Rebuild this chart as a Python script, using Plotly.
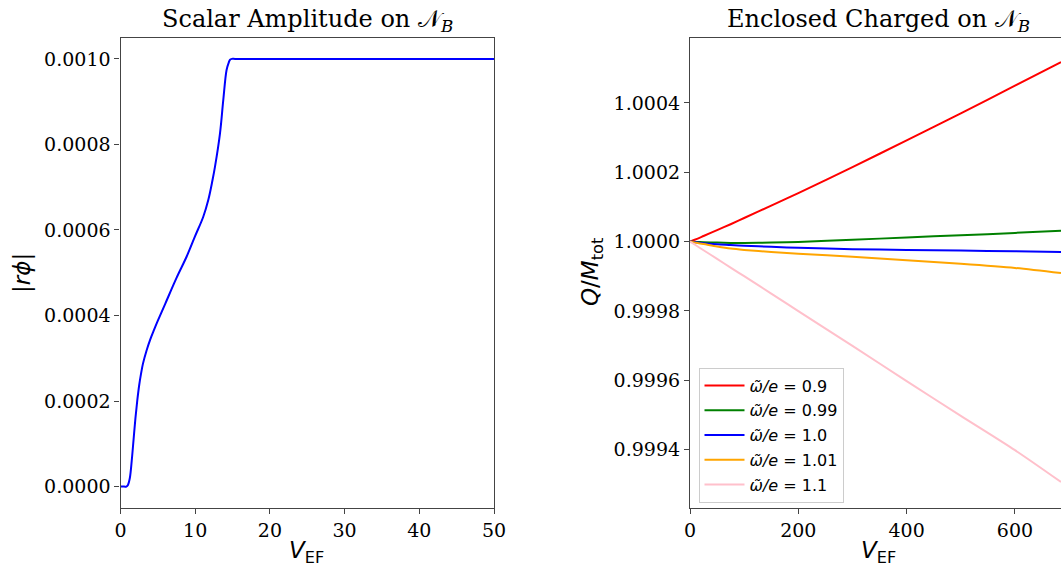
import plotly.graph_objects as go

# Scalar amplitude |r phi| on N_B versus V_EF
v_amp = [0, 0.5, 0.78, 1.0, 1.25, 1.5, 1.75, 2.0, 2.25, 2.5, 2.75, 3.0, 3.5, 4.0, 4.5,
         5.0, 6.0, 7.5, 8.86, 9.97, 11.08, 11.75, 12.3, 12.65, 13.32, 13.76, 14.2, 14.5,
         14.66, 14.9, 15.33, 20, 30, 40, 50]
amp = [0, 0, 0, 0.000004, 0.00002, 0.00006, 0.00011, 0.00016, 0.000202, 0.000237,
       0.000264, 0.000287, 0.000319, 0.000345, 0.000367, 0.000388, 0.000428, 0.000488,
       0.000538, 0.000585, 0.000631, 0.00067, 0.000715, 0.000748, 0.000826, 0.000904,
       0.000974, 0.000992, 0.000998, 0.001, 0.001, 0.001, 0.001, 0.001, 0.001]

# Enclosed charge Q/M_tot on N_B versus V_EF for several omega/e
v_q = [0, 10, 25, 50, 75, 100, 150, 200, 300, 400, 500, 600, 685]
q_090 = [1.0, 1.000006, 1.000016, 1.000033, 1.00005, 1.000068, 1.000104, 1.000140,
         1.000215, 1.000292, 1.000370, 1.000450, 1.000518]
q_099 = [1.0, 0.999999, 0.999998, 0.999997, 0.999996, 0.999996, 0.999997, 0.999999,
         1.000005, 1.000012, 1.000018, 1.000025, 1.000031]
q_100 = [1.0, 0.999998, 0.999995, 0.999992, 0.99999, 0.999988, 0.999985, 0.999982,
         0.999978, 0.999976, 0.999974, 0.999972, 0.999970]
q_101 = [1.0, 0.999997, 0.999993, 0.999986, 0.99998, 0.999976, 0.99997, 0.999965,
         0.999956, 0.999946, 0.999936, 0.999924, 0.999909]
q_110 = [1.0, 0.99999, 0.999975, 0.99995, 0.999925, 0.9999, 0.99985, 0.999799,
         0.999699, 0.999597, 0.999497, 0.999398, 0.999306]

series_labels = ["0.9", "0.99", "1.0", "1.01", "1.1"]
series_values = [q_090, q_099, q_100, q_101, q_110]
series_colors = ["red", "green", "blue", "orange", "pink"]

W, H = 1061, 567
SERIF = "DejaVu Serif"
SANS = "DejaVu Sans"

fig = go.Figure()
fig.add_trace(go.Scatter(x=v_amp, y=amp, mode="lines", showlegend=False,
                         line=dict(color="blue", width=2, shape="spline", smoothing=1.0),
                         xaxis="x", yaxis="y"))
for i, (lab, vals, col) in enumerate(zip(series_labels, series_values, series_colors)):
    fig.add_trace(go.Scatter(x=v_q, y=vals, mode="lines",
                             name=f"<i>ω̃/e</i> = {lab}", legendgroup=f"g{i}",
                             line=dict(color=col, width=2, shape="spline", smoothing=0.8),
                             xaxis="x2", yaxis="y2"))

def px_x(p):
    return p / W

def px_y(p):
    return 1 - p / H

axis_common = dict(showline=True, linecolor="#444", linewidth=1.2, ticks="outside",
                   ticklen=5, tickwidth=1.2, tickcolor="#444", showgrid=False,
                   zeroline=False, automargin=False,
                   tickfont=dict(family=SERIF, size=19, color="black"))

fig.update_layout(
    width=W, height=H,
    margin=dict(l=0, r=0, t=0, b=0, autoexpand=False),
    paper_bgcolor="white", plot_bgcolor="white",
    xaxis=dict(domain=[px_x(120.5), px_x(494)], range=[0, 50], dtick=10, mirror=True,
               anchor="y", **axis_common),
    yaxis=dict(domain=[px_y(508), px_y(37.5)], range=[-0.00005, 0.00105], dtick=0.0002,
               tickformat=".4f", mirror=True, anchor="x", **axis_common),
    xaxis2=dict(domain=[px_x(690), 1.0], range=[0, 685], dtick=200, mirror=True,
                anchor="y2", **axis_common),
    yaxis2=dict(domain=[px_y(508), px_y(37.5)], range=[0.999231, 1.000589],
                dtick=0.0002, tickformat=".4f", mirror=False, anchor="x2", **axis_common),
    legend=dict(x=px_x(698.5), y=px_y(367.5), xanchor="left", yanchor="top",
                bgcolor="rgba(255,255,255,0.8)", bordercolor="#cccccc", borderwidth=1,
                font=dict(family=SANS, size=16, color="black"), itemwidth=40,
                tracegroupgap=1),
    showlegend=True,
)

annotations = [
    dict(text="Scalar Amplitude on 𝒩<sub><i>B</i></sub>", x=px_x(307), y=px_y(20),
         font=dict(family=SERIF, size=24)),
    dict(text="Enclosed Charged on 𝒩<sub><i>B</i></sub>", x=px_x(878), y=px_y(20),
         font=dict(family=SERIF, size=24)),
    dict(text="<i>V</i><sub>EF</sub>", x=px_x(306), y=px_y(552),
         font=dict(family=SANS, size=23)),
    dict(text="<i>V</i><sub>EF</sub>", x=px_x(878), y=px_y(552),
         font=dict(family=SANS, size=23)),
    dict(text="|<i>rϕ</i>|", x=px_x(22), y=px_y(273), textangle=-90,
         font=dict(family=SANS, size=23)),
    dict(text="<i>Q</i>/<i>M</i><sub>tot</sub>", x=px_x(592), y=px_y(272), textangle=-90,
         font=dict(family=SANS, size=23)),
]
for a in annotations:
    a.update(xref="paper", yref="paper", showarrow=False, xanchor="center", yanchor="middle")
    a["font"]["color"] = "black"
fig.update_layout(annotations=annotations)

fig.write_html("out.html")
